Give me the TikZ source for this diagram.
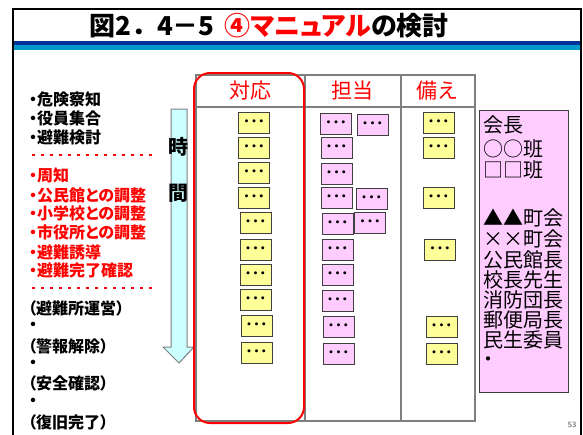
\documentclass[tikz,border=0pt]{standalone}
\usepackage{fontspec}
\newfontfamily\jp[RawFeature=+palt]{Noto Sans CJK JP}
\newfontfamily\jpw{Noto Sans CJK JP}
\definecolor{boxyellow}{HTML}{FFFF99}
\definecolor{boxpink}{HTML}{FFCCFF}
\definecolor{arrowcyan}{HTML}{CCFFFF}
\definecolor{bandblue}{HTML}{003399}
\definecolor{bandlight}{HTML}{0099CC}
\definecolor{gridgray}{HTML}{7F7F7F}
\definecolor{alertred}{HTML}{FF0000}
\newcommand\onedot{\hbox to 7.3pt{\hss・\hss}}
\newcommand\tridots{\onedot\onedot\onedot}
\tikzset{
  ybox/.style={draw=black!75, line width=1pt, fill=boxyellow, minimum width=31pt, minimum height=21pt, inner sep=0pt, font=\jpw\bfseries\fontsize{11}{11}\selectfont},
  pbox/.style={ybox, fill=boxpink},
  listitem/.style={anchor=west, inner sep=0pt, font=\jp\bfseries\fontsize{16}{16}\selectfont},
  reditem/.style={listitem, text=alertred},
  headtext/.style={inner sep=0pt, text=alertred, font=\jpw\fontsize{21}{21}\selectfont},
  pinktext/.style={anchor=west, inner sep=0pt, font=\jp\fontsize{20}{20}\selectfont},
  reddots/.style={alertred, line width=2.5pt, dash pattern=on 2.5pt off 6.5pt},
  gridline/.style={gridgray, line width=1.5pt},
}
\begin{document}
\begin{tikzpicture}[x=1pt,y=-1pt]
\useasboundingbox (0,0) rectangle (583,434);
% frame
\draw[line width=2pt] (12.5,436) -- (12.5,8.5) -- (580.5,8.5) -- (580.5,436);
% title band
\fill[bandblue] (13.5,41) rectangle (579.5,45);
\fill[bandlight] (13.5,45) rectangle (579.5,50);
\node[inner sep=0pt, anchor=west, font=\bfseries\fontsize{26}{26}\selectfont] (title) at (89,26)
  {{\jpw 図2．4－5} {\jp\textcolor{alertred}{④マニュアル}の検討}};

% left list
\node[listitem] (l1) at (29,99) {・危険察知};
\node[listitem] (l2) at (29,118) {・役員集合};
\node[listitem] (l3) at (29,137) {・避難検討};
\coordinate (d1a) at (32,155); \coordinate (d1b) at (153,155);
\draw[reddots] (d1a) -- (d1b);
\node[reditem] (l4) at (29,175) {・周知};
\node[reditem] (l5) at (29,195) {・公民館との調整};
\node[reditem] (l6) at (29,213) {・小学校との調整};
\node[reditem] (l7) at (29,232) {・市役所との調整};
\node[reditem] (l8) at (29,252) {・避難誘導};
\node[reditem] (l9) at (29,270) {・避難完了確認};
\coordinate (d2a) at (32,288); \coordinate (d2b) at (153,288);
\draw[reddots] (d2a) -- (d2b);
\node[listitem] (l10) at (28,308) {（避難所運営）};
\node[listitem] (l11) at (29,326) {・};
\node[listitem] (l12) at (28,346) {（警報解除）};
\node[listitem] (l13) at (29,364) {・};
\node[listitem] (l14) at (28,383) {（安全確認）};
\node[listitem] (l15) at (29,402) {・};
\node[listitem] (l16) at (28,422) {（復旧完了）};

% time arrow
\draw[gridgray, line width=1pt, fill=arrowcyan, line join=miter]
  (171,109) -- (187,109) -- (187,347) -- (194,347) -- (179,363) -- (163,347) -- (171,347) -- cycle;
\node[inner sep=0pt, font=\jpw\bfseries\fontsize{20}{20}\selectfont] (t1) at (178,147) {時};
\node[inner sep=0pt, font=\jpw\bfseries\fontsize{20}{20}\selectfont] (t2) at (178,193) {間};

% table
\draw[gridline] (196,75) rectangle (475,421);
\draw[gridline] (196,107) -- (475,107);
\draw[gridline] (305,75) -- (305,421);
\draw[gridline] (401,75) -- (401,421);
\draw[alertred, line width=2pt, rounded corners=16pt] (194,73) rectangle (304,423);
\node[headtext] (h1) at (250,91) {対応};
\node[headtext] (h2) at (352,91) {担当};
\node[headtext] (h3) at (437,91) {備え};

% column 1 (yellow)
\node[ybox] (a1) at (254,122.5) {\tridots};
\node[ybox] (a2) at (254,148) {\tridots};
\node[ybox] (a3) at (254,172.5) {\tridots};
\node[ybox] (a4) at (254,197.5) {\tridots};
\node[ybox] (a5) at (255.5,223) {\tridots};
\node[ybox] (a6) at (255.5,249.5) {\tridots};
\node[ybox] (a7) at (255.5,274.5) {\tridots};
\node[ybox] (a8) at (255.5,300) {\tridots};
\node[ybox] (a9) at (256.5,326) {\tridots};
\node[ybox] (a10) at (256.5,352.5) {\tridots};

% column 2 (pink)
\node[pbox] (b1) at (336,123.5) {\tridots};
\node[pbox] (b1b) at (372.5,124.5) {\tridots};
\node[pbox] (b2) at (336.5,147.5) {\tridots};
\node[pbox] (b3) at (336.5,173.5) {\tridots};
\node[pbox] (b4) at (336.5,197.5) {\tridots};
\node[pbox] (b4b) at (371.5,199) {\tridots};
\node[pbox] (b5) at (337.5,223.5) {\tridots};
\node[pbox] (b5b) at (370,223) {\tridots};
\node[pbox] (b6) at (337.5,250) {\tridots};
\node[pbox] (b7) at (337.5,275) {\tridots};
\node[pbox] (b8) at (337.5,301) {\tridots};
\node[pbox] (b9) at (338.5,327) {\tridots};
\node[pbox] (b10) at (338.5,353.5) {\tridots};

% column 3 (yellow)
\node[ybox] (c1) at (438.5,123) {\tridots};
\node[ybox] (c2) at (438.5,148) {\tridots};
\node[ybox] (c4) at (438.5,197.5) {\tridots};
\node[ybox] (c6) at (440,250) {\tridots};
\node[ybox] (c9) at (441.5,327) {\tridots};
\node[ybox] (c10) at (441.5,353.5) {\tridots};

% pink member box
\node[draw=black!75, line width=1pt, fill=boxpink, minimum width=89pt, minimum height=282pt, inner sep=0pt, anchor=north west] (members) at (479,110) {};
\node[pinktext] (m1) at (483,125) {会長};
\node[pinktext] (m2) at (483,149) {○○班};
\node[pinktext] (m3) at (483,170) {□□班};
\node[pinktext] (m4) at (483,218) {▲▲町会};
\node[pinktext] (m5) at (483,239) {××町会};
\node[pinktext] (m6) at (483,260) {公民館長};
\node[pinktext] (m7) at (483,280) {校長先生};
\node[pinktext] (m8) at (483,300) {消防団長};
\node[pinktext] (m9) at (483,320) {郵便局長};
\node[pinktext] (m10) at (483,340) {民生委員};
\node[pinktext] (m11) at (483,362) {・};

% page number
\node[inner sep=0pt, text=black!70, font=\sffamily\fontsize{8}{8}\selectfont] (pg) at (572,425) {53};
\end{tikzpicture}
\end{document}
